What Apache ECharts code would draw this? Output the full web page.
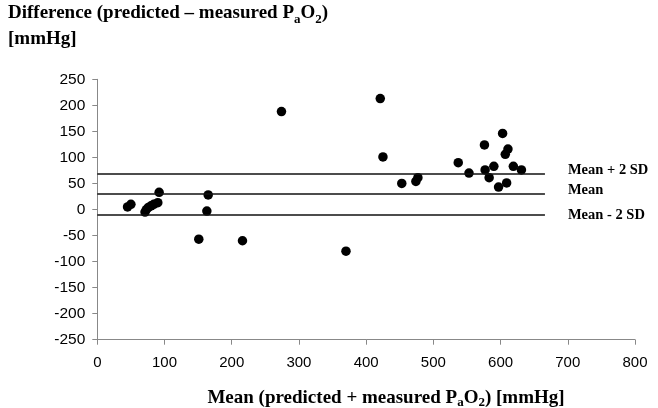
<!DOCTYPE html>
<html>
<head>
<meta charset="utf-8">
<script src="https://cdn.jsdelivr.net/npm/echarts@6/dist/echarts.min.js"></script>
<style>html,body{margin:0;padding:0;background:#fff}#c{width:658px;height:408px}</style>
</head>
<body>
<div id="c"></div>
<script>
// Mean of predicted and measured PaO2 (mmHg)
const meanVals = [45, 50, 71, 73, 76, 80, 84, 90, 92, 151, 163, 165, 216, 274, 370, 421, 425, 453, 474, 477, 537, 553, 576, 577, 583, 590, 597, 603, 607, 609, 611, 619, 631];
// Difference predicted - measured PaO2 (mmHg)
const diffVals = [5, 10, -5, 0, 4, 7, 10, 13, 33, -57, -3, 28, -60, 188, -80, 213, 101, 50, 54, 61, 90, 70, 124, 76, 61, 83, 43, 146, 106, 51, 116, 83, 76];
// Reference lines
const refNames = ['Mean + 2 SD', 'Mean', 'Mean - 2 SD'];
const refVals = [69, 29.5, -10];
const refLineEnd = 666;

const serif = '"Liberation Serif","Times New Roman",serif';
const sans = '"Liberation Sans",Arial,sans-serif';

const points = meanVals.map((x, i) => [x, diffVals[i]]);

const chart = echarts.init(document.getElementById('c'), null, {renderer: 'canvas'});
chart.setOption({
  animation: false,
  backgroundColor: '#fff',
  grid: {left: 97.3, right: 23, top: 79.3, bottom: 68.3, containLabel: false},
  title: {
    left: 8, top: 0, padding: 0,
    text: '{b|Difference (predicted – measured P}{s|a}{b|O}{s|2}{b|)}\n{b|[mmHg]}',
    textStyle: {
      rich: {
        b: {fontFamily: serif, fontWeight: 'bold', fontSize: 19, lineHeight: 26, color: '#000'},
        s: {fontFamily: serif, fontWeight: 'bold', fontSize: 13, lineHeight: 20, verticalAlign: 'bottom', color: '#000'}
      }
    }
  },
  graphic: [{
    type: 'text', x: 386, y: 398,
    style: {
      text: '{b|Mean (predicted + measured P}{s|a}{b|O}{s|2}{b|) [mmHg]}',
      align: 'center', verticalAlign: 'middle',
      rich: {
        b: {fontFamily: serif, fontWeight: 'bold', fontSize: 19, lineHeight: 22, fill: '#000'},
        s: {fontFamily: serif, fontWeight: 'bold', fontSize: 13, lineHeight: 16, verticalAlign: 'bottom', fill: '#000'}
      }
    }
  }],
  xAxis: {
    type: 'value', min: 0, max: 800, interval: 100,
    axisLine: {onZero: false, lineStyle: {color: '#888', width: 1}},
    axisTick: {show: true, length: 5, lineStyle: {color: '#888'}},
    splitLine: {show: false},
    axisLabel: {fontFamily: sans, fontSize: 15, color: '#000', margin: 16}
  },
  yAxis: {
    type: 'value', min: -250, max: 250, interval: 50,
    axisLine: {show: true, lineStyle: {color: '#888', width: 1}},
    axisTick: {show: true, length: 5, lineStyle: {color: '#888'}},
    splitLine: {show: false},
    axisLabel: {fontFamily: sans, fontSize: 15.5, color: '#000', margin: 12}
  },
  series: [{
    type: 'scatter',
    data: points,
    symbol: 'circle',
    symbolSize: 9.5,
    itemStyle: {color: '#000', opacity: 1},
    markLine: {
      silent: true,
      symbol: ['none', 'none'],
      lineStyle: {color: '#111', width: 1.5, type: 'solid'},
      label: {
        show: true, position: 'end', distance: 23,
        fontFamily: serif, fontWeight: 'bold', fontSize: 14.5, color: '#000',
        formatter: p => p.name
      },
      data: refVals.map((v, i) => [
        {name: refNames[i], coord: [0, v]},
        {coord: [refLineEnd, v], label: {offset: [0, i === 0 ? -3 : (i === 1 ? -4 : 1)]}}
      ])
    }
  }]
});
</script>
</body>
</html>
